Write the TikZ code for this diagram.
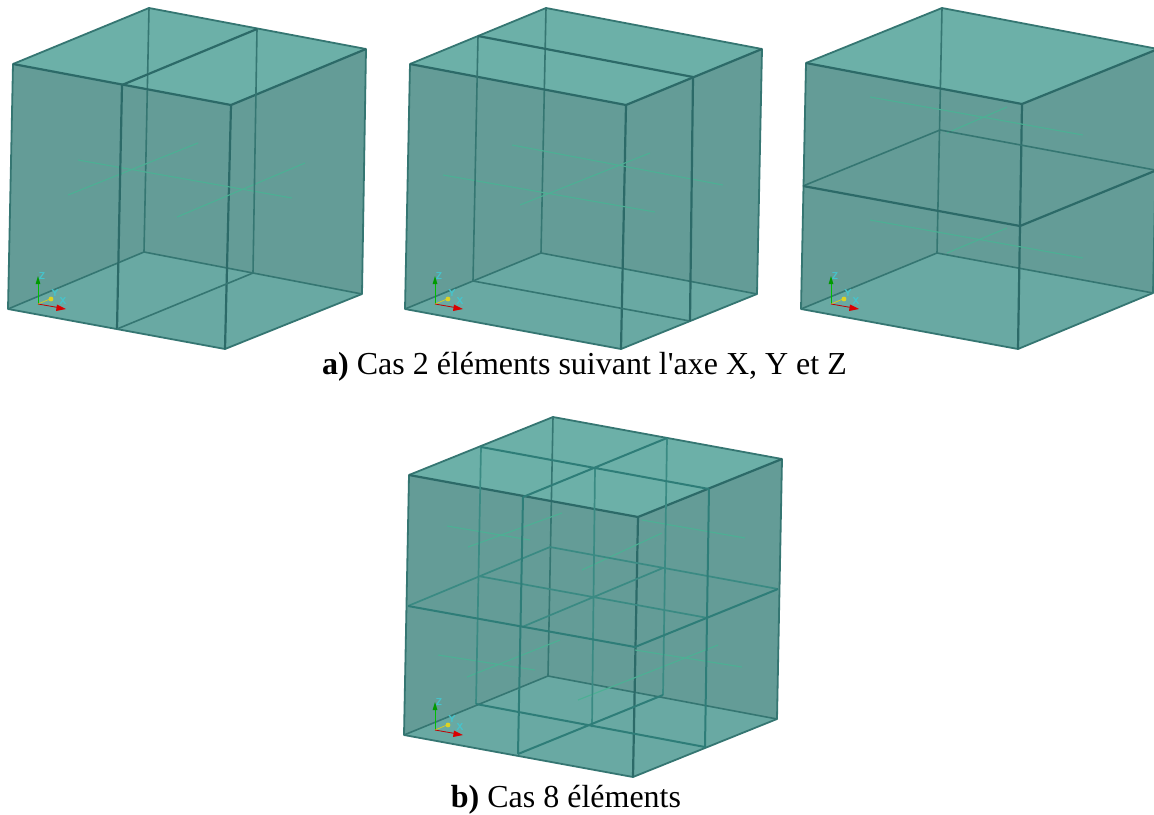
\documentclass[tikz,border=0pt]{standalone}
\usepackage{fontspec}
\newfontfamily\capfont{Liberation Serif}
\definecolor{wallc}{HTML}{649C97}
\definecolor{topc}{HTML}{6CB0A8}
\definecolor{floorc}{HTML}{69A9A3}
\definecolor{edgefront}{HTML}{2C6A68}
\definecolor{edgeback}{HTML}{357672}
\definecolor{edgeteal}{HTML}{2E7D78}
\definecolor{edgesoft}{HTML}{3A8A83}
\definecolor{faint}{HTML}{4CB094}
\definecolor{axcyan}{HTML}{45C4CC}
\newcommand{\cubebody}[8]{%
  \fill[wallc] #1 -- #3 -- #4 -- #8 -- #6 -- #5 -- cycle;
  \fill[topc] #1 -- #3 -- #4 -- #2 -- cycle;
  \fill[floorc] #5 -- #7 -- #8 -- #6 -- cycle;
  \draw[backline] #3 -- #7 #7 -- #5 #7 -- #8;
  \draw[rimline] #3 -- #1 -- #5 -- #6 -- #8 -- #4 -- cycle;
  \draw[frontline] #1 -- #2 -- #6 #2 -- #4;
}
\newcommand{\triad}[2]{%
  \begin{scope}[shift={(#1,#2)}]
    \draw[green!75!black, line width=.8pt] (0,0) -- (0,-20);
    \fill[green!60!black] (-2.4,-20) -- (0,-28) -- (2.4,-20) -- cycle;
    \draw[yellow!80!black, line width=.8pt] (0,0) -- (12,-5);
    \fill[yellow!85!black] (13,-5) circle (2.4);
    \draw[red!75!black, line width=.8pt] (0,0) -- (20,3.5);
    \fill[red!85!black] (19,0.5) -- (28,5) -- (18,7) -- cycle;
    \node[triadlabel] at (4,-28) {Z};
    \node[triadlabel] at (17,-11) {Y};
    \node[triadlabel] at (25,-3) {X};
  \end{scope}
}
\tikzset{
  backline/.style={draw=edgeback, line width=1.6pt, line join=round},
  frontline/.style={draw=edgefront, line width=2.2pt, line join=round},
  rimline/.style={draw=edgeback, line width=1.8pt, line join=round},
  tealline/.style={draw=edgeteal, line width=2pt, line join=round},
  softline/.style={draw=edgesoft, line width=1.7pt, line join=round},
  faintline/.style={draw=faint, line width=1.1pt},
  triadlabel/.style={text=axcyan, font=\fontsize{10}{11}\selectfont\sffamily\bfseries, inner sep=0pt},
  caption/.style={font=\capfont\fontsize{32}{36}\selectfont, anchor=base, inner sep=0pt}
}
\begin{document}
\begin{tikzpicture}[x=1pt,y=-1pt]
\useasboundingbox (0,0) rectangle (1154,814);
\fill[white] (0,0) rectangle (1154,814);

% cube 1
\cubebody{(13,64)}{(231,105)}{(149,8)}{(366,49)}{(8,309)}{(225,349)}{(144,252)}{(362,294)}
\draw[faintline] (78,160) -- (292,198) (68,195) -- (198,143) (177,217) -- (305,163);
\draw[backline] (257,29) -- (253,273);
\draw[frontline] (122,85) -- (257,29) (122,85) -- (117,329);
\draw[backline] (117,329) -- (253,273);
\triad{38}{304}

% cube 2
\cubebody{(410,64)}{(626,105)}{(546,8)}{(762,49)}{(405,309)}{(621,349)}{(541,253)}{(757,294)}
\draw[faintline] (512,145) -- (723,185) (443,175) -- (655,212) (520,205) -- (650,153);
\draw[backline] (478,36) -- (473,281) (473,281) -- (690,321);
\draw[frontline] (478,36) -- (693,77) -- (690,321);
\triad{435}{304}

% cube 3
\cubebody{(806,63)}{(1022,104)}{(942,8)}{(1158,49)}{(801,309)}{(1018,349)}{(937,253)}{(1153,293)}
\draw[faintline] (870,97) -- (1083,135) (947,133) -- (1007,107) (870,220) -- (1083,258) (947,253) -- (1007,228);
\draw[backline] (940,130) -- (1155,170) (940,130) -- (803,186);
\draw[frontline] (803,186) -- (1020,226) -- (1157,170);
\triad{831}{304}

% cube 4
\cubebody{(409,475)}{(638,517)}{(553,417)}{(782,459)}{(404,735)}{(633,777)}{(548,676)}{(777,719)}
\draw[faintline] (447,526) -- (530,540) (468,547) -- (562,513) (582,570) -- (662,533)
  (642,520) -- (745,538) (438,655) -- (535,670) (467,677) -- (560,640) (578,700) -- (718,645)
  (635,650) -- (742,667);
\draw[softline] (595,468) -- (592,727) (478,576) -- (708,618) (663,568) -- (522,627) (550,547) -- (408,606) (550,547) -- (778,589);
\draw[softline] (667,438) -- (663,695) (481,447) -- (476,704);
\draw[tealline] (476,704) -- (705,747) (663,695) -- (518,754);
\draw[tealline] (481,447) -- (709,489) (667,438) -- (523,497) (408,606) -- (635,647) -- (778,589);
\draw[tealline] (523,497) -- (518,754) (709,489) -- (705,747);
\triad{435}{730}

\node[caption] (capa) at (584.5,374) {\textbf{a)} Cas 2 éléments suivant l'axe X, Y et Z};
\node[caption] (capb) at (566,807) {\textbf{b)} Cas 8 éléments};
\end{tikzpicture}
\end{document}
